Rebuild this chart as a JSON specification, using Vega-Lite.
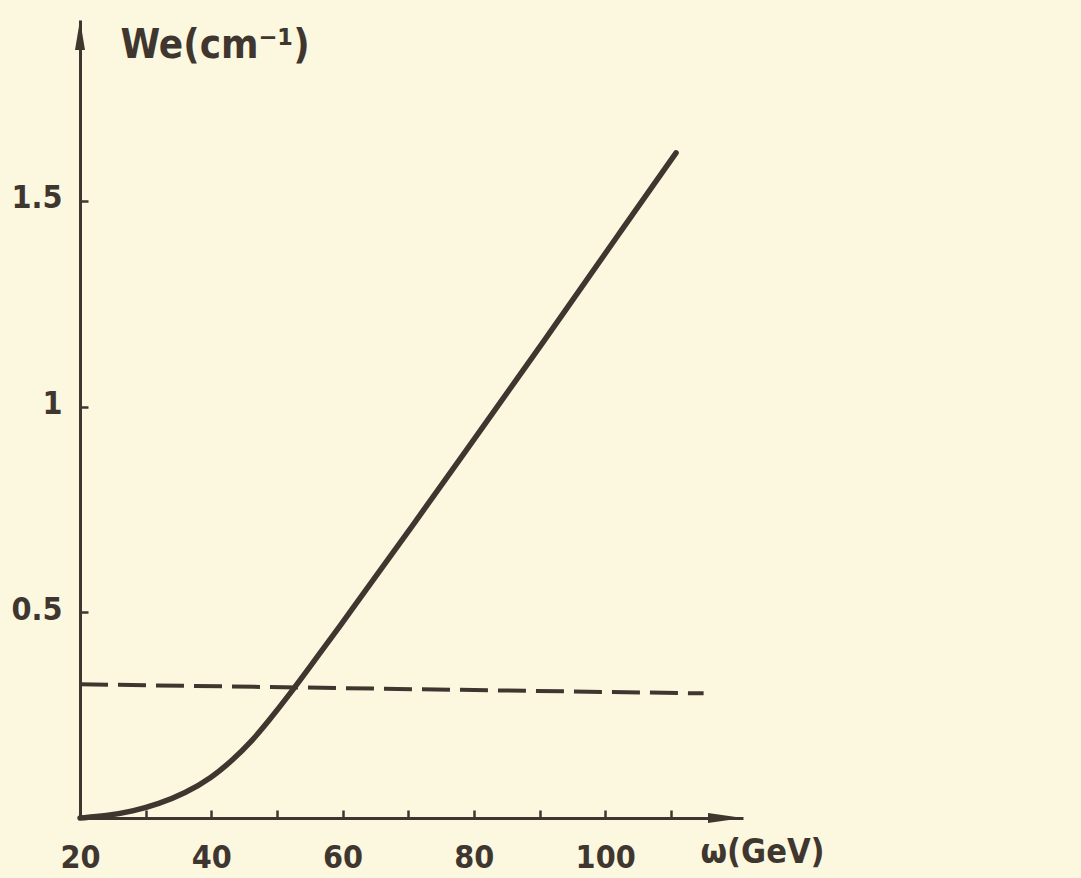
{
  "$schema": "https://vega.github.io/schema/vega-lite/v6.json",
  "width": 663,
  "height": 798,
  "autosize": {"type": "none"},
  "padding": {"left": 80, "top": 20, "right": 338, "bottom": 60},
  "background": "#fcf8df",
  "view": {"stroke": null},
  "config": {
    "font": "Liberation Sans Narrow, DejaVu Sans Condensed, sans-serif",
    "axis": {
      "domainColor": "#3f372f",
      "domainWidth": 3,
      "tickColor": "#3f372f",
      "tickWidth": 2.5,
      "tickSize": -8,
      "grid": false,
      "labelColor": "#3f372f",
      "labelFontSize": 32,
      "labelFontWeight": "bold",
      "labelFlush": false,
      "titleColor": "#3f372f",
      "titleFontWeight": "bold"
    }
  },
  "datasets": {
    "curve": [
      {"w": 20, "W": 0.0},
      {"w": 24, "W": 0.005},
      {"w": 28, "W": 0.016},
      {"w": 32, "W": 0.034},
      {"w": 36, "W": 0.06},
      {"w": 40, "W": 0.097},
      {"w": 43.4, "W": 0.143},
      {"w": 46, "W": 0.184},
      {"w": 48.5, "W": 0.231},
      {"w": 52, "W": 0.302},
      {"w": 55, "W": 0.367},
      {"w": 58.6, "W": 0.445},
      {"w": 61.2, "W": 0.502},
      {"w": 65.3, "W": 0.593},
      {"w": 70.4, "W": 0.705},
      {"w": 78, "W": 0.875},
      {"w": 86.7, "W": 1.07},
      {"w": 94, "W": 1.235},
      {"w": 102.4, "W": 1.427},
      {"w": 110.8, "W": 1.617}
    ],
    "dashed": [
      {"w": 20, "W": 0.325},
      {"w": 115, "W": 0.303}
    ],
    "arrows": [
      {"w": 20, "W": 1.94, "dir": "up"},
      {"w": 121, "W": 0, "dir": "right"}
    ]
  },
  "layer": [
    {
      "data": {"name": "curve"},
      "mark": {"type": "line", "color": "#3f362f", "strokeWidth": 5.5, "interpolate": "basis", "strokeCap": "round"},
      "encoding": {
        "x": {
          "field": "w", "type": "quantitative",
          "scale": {"domain": [20, 121], "nice": false, "zero": false},
          "axis": {
            "values": [20, 30, 40, 50, 60, 70, 80, 90, 100, 110],
            "labelExpr": "datum.value % 20 == 0 ? datum.label : ''",
            "labelPadding": 32,
            "labelBaseline": "top",
            "title": "ω(GeV)",
            "titleFontSize": 34,
            "titleAngle": 0,
            "titleAlign": "left",
            "titleBaseline": "middle",
            "titleAnchor": "start",
            "titleX": 620,
            "titleY": 34
          }
        },
        "y": {
          "field": "W", "type": "quantitative",
          "scale": {"domain": [0, 1.94], "nice": false, "zero": true},
          "axis": {
            "values": [0.5, 1, 1.5],
            "format": "~g",
            "labelPadding": 26,
            "labelBaseline": "middle",
            "labelOffset": -3,
            "title": "We(cm⁻¹)",
            "titleFontSize": 40,
            "titleAngle": 0,
            "titleAlign": "left",
            "titleBaseline": "middle",
            "titleX": 40,
            "titleY": 25
          }
        }
      }
    },
    {
      "data": {"name": "dashed"},
      "mark": {"type": "line", "color": "#3f362f", "strokeWidth": 4, "strokeDash": [28, 10]},
      "encoding": {
        "x": {"field": "w", "type": "quantitative"},
        "y": {"field": "W", "type": "quantitative"}
      }
    },
    {
      "data": {"name": "arrows"},
      "transform": [{"filter": "datum.dir == 'up'"}],
      "mark": {"type": "point", "filled": true, "color": "#3f362f", "opacity": 1, "size": 400, "shape": "M0,0L-0.5,3L0.5,3Z"},
      "encoding": {
        "x": {"field": "w", "type": "quantitative"},
        "y": {"field": "W", "type": "quantitative"}
      }
    },
    {
      "data": {"name": "arrows"},
      "transform": [{"filter": "datum.dir == 'right'"}],
      "mark": {"type": "point", "filled": true, "color": "#3f362f", "opacity": 1, "size": 400, "shape": "M0,0L-3.5,-0.5L-3.5,0.5Z"},
      "encoding": {
        "x": {"field": "w", "type": "quantitative"},
        "y": {"field": "W", "type": "quantitative"}
      }
    }
  ]
}
